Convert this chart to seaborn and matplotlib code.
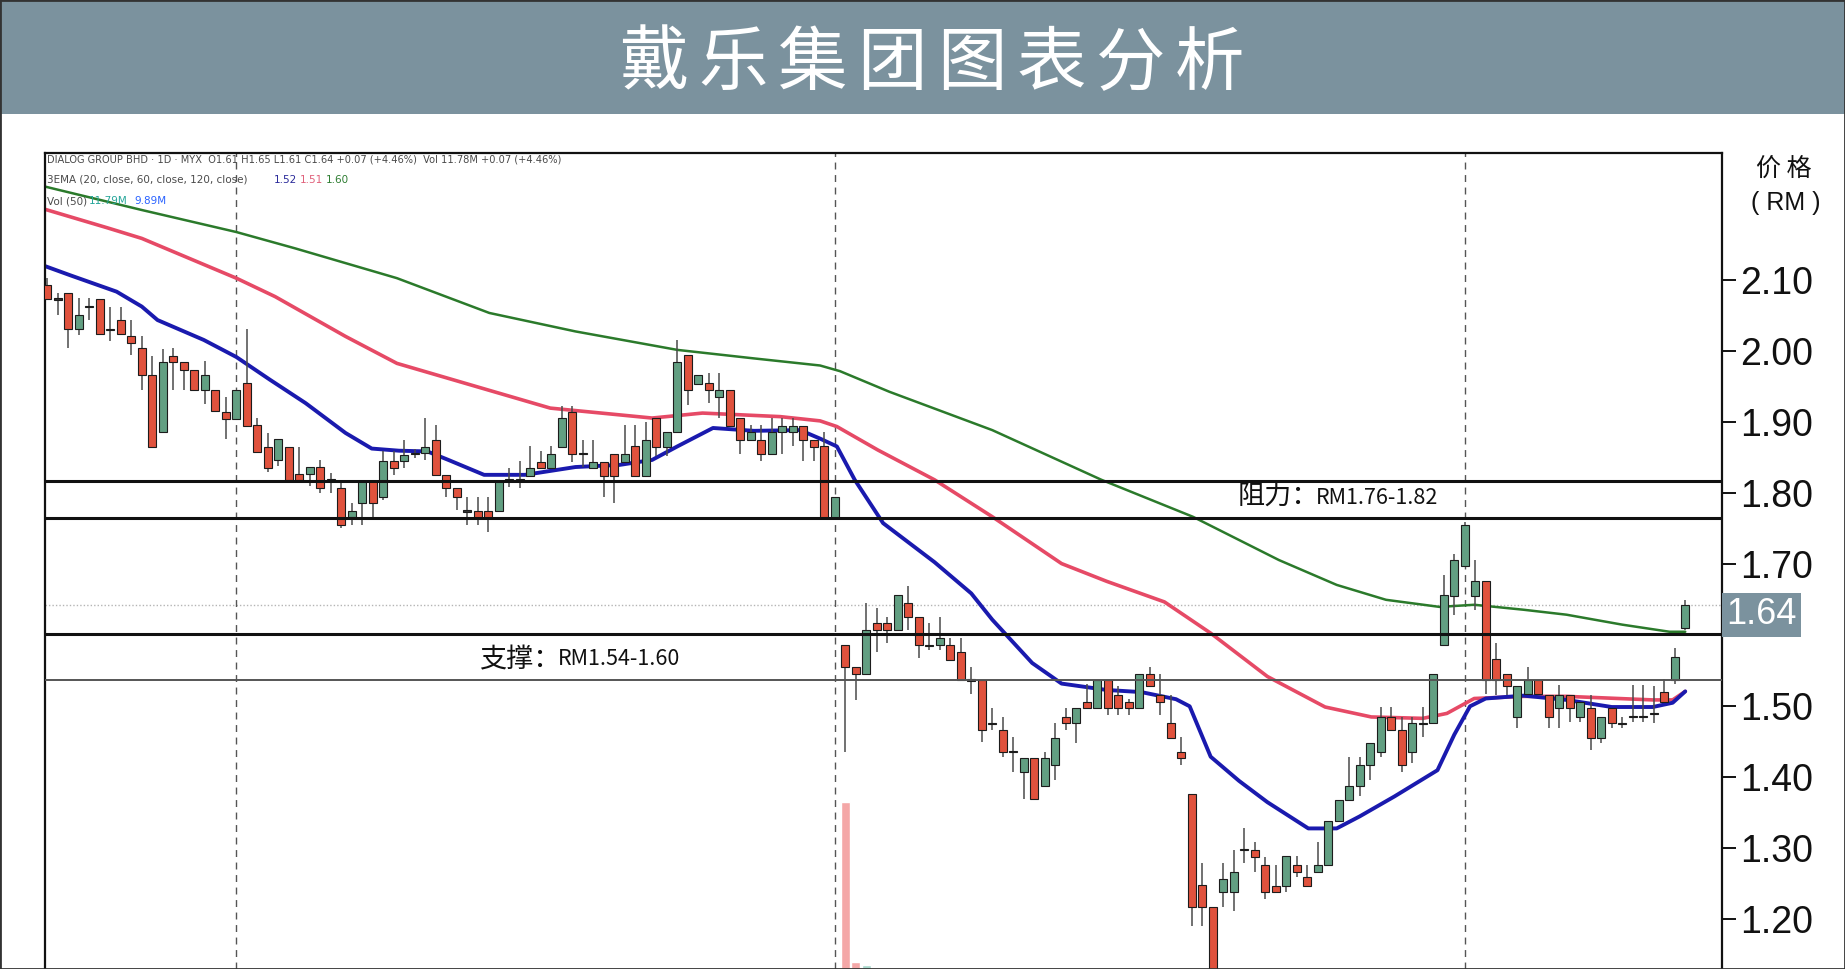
import numpy as np
import pandas as pd
import matplotlib
matplotlib.use("Agg")
import matplotlib.pyplot as plt
import matplotlib.transforms as mtransforms
from matplotlib.patches import Rectangle
import seaborn as sns

# ---- data (daily candles, index 0..156) ----
opens = [2.093, 2.074, 2.082, 2.031, 2.063, 2.074, 2.031, 2.044, 2.022, 2.004,
         1.966, 1.886, 1.994, 1.985, 1.974, 1.945, 1.945, 1.915, 1.905, 1.955,
         1.896, 1.865, 1.847, 1.865, 1.827, 1.827, 1.837, 1.819, 1.807, 1.766,
         1.786, 1.818, 1.795, 1.845, 1.845, 1.856, 1.857, 1.875, 1.826, 1.807,
         1.775, 1.775, 1.775, 1.775, 1.819, 1.819, 1.825, 1.844, 1.835, 1.865,
         1.915, 1.856, 1.835, 1.844, 1.855, 1.844, 1.866, 1.825, 1.906, 1.865,
         1.886, 1.995, 1.954, 1.955, 1.935, 1.945, 1.906, 1.875, 1.875, 1.855,
         1.886, 1.886, 1.895, 1.875, 1.866, 1.765, 1.586, 1.556, 1.546, 1.617,
         1.617, 1.607, 1.645, 1.626, 1.586, 1.586, 1.586, 1.577, 1.537, 1.537,
         1.476, 1.467, 1.436, 1.407, 1.427, 1.388, 1.417, 1.485, 1.476, 1.506,
         1.497, 1.537, 1.516, 1.506, 1.497, 1.546, 1.516, 1.476, 1.436, 1.377,
         1.248, 1.218, 1.238, 1.238, 1.298, 1.298, 1.277, 1.247, 1.247, 1.277,
         1.259, 1.267, 1.277, 1.338, 1.368, 1.388, 1.418, 1.436, 1.485, 1.467,
         1.436, 1.476, 1.476, 1.586, 1.656, 1.697, 1.656, 1.676, 1.566, 1.546,
         1.485, 1.518, 1.537, 1.516, 1.497, 1.516, 1.485, 1.498, 1.456, 1.497,
         1.476, 1.486, 1.486, 1.490, 1.520, 1.537, 1.610]
highs = [2.103, 2.082, 2.082, 2.075, 2.075, 2.074, 2.062, 2.062, 2.044, 2.022,
         1.993, 2.003, 2.004, 1.985, 1.974, 1.986, 1.945, 1.936, 1.945, 2.032,
         1.906, 1.885, 1.876, 1.865, 1.865, 1.837, 1.847, 1.828, 1.816, 1.786,
         1.818, 1.818, 1.859, 1.859, 1.875, 1.862, 1.906, 1.896, 1.826, 1.807,
         1.795, 1.795, 1.795, 1.817, 1.835, 1.845, 1.866, 1.859, 1.866, 1.923,
         1.923, 1.875, 1.875, 1.844, 1.855, 1.896, 1.896, 1.901, 1.906, 1.886,
         2.016, 1.995, 1.966, 1.969, 1.969, 1.945, 1.906, 1.896, 1.896, 1.906,
         1.906, 1.906, 1.895, 1.875, 1.886, 1.795, 1.586, 1.556, 1.645, 1.638,
         1.626, 1.657, 1.669, 1.626, 1.617, 1.626, 1.596, 1.596, 1.556, 1.537,
         1.497, 1.485, 1.457, 1.427, 1.427, 1.436, 1.476, 1.497, 1.497, 1.532,
         1.537, 1.537, 1.528, 1.510, 1.546, 1.556, 1.546, 1.516, 1.457, 1.377,
         1.279, 1.218, 1.279, 1.298, 1.328, 1.309, 1.288, 1.277, 1.289, 1.289,
         1.277, 1.309, 1.338, 1.368, 1.429, 1.429, 1.448, 1.499, 1.499, 1.485,
         1.485, 1.499, 1.546, 1.685, 1.715, 1.760, 1.706, 1.676, 1.589, 1.546,
         1.528, 1.556, 1.537, 1.516, 1.530, 1.516, 1.506, 1.516, 1.485, 1.497,
         1.485, 1.530, 1.530, 1.528, 1.539, 1.582, 1.650]
lows = [2.073, 2.051, 2.004, 2.023, 2.044, 2.024, 2.015, 2.024, 1.995, 1.945,
        1.865, 1.886, 1.945, 1.945, 1.945, 1.926, 1.916, 1.876, 1.905, 1.895,
        1.858, 1.830, 1.838, 1.819, 1.819, 1.810, 1.800, 1.800, 1.751, 1.756,
        1.756, 1.766, 1.790, 1.826, 1.835, 1.850, 1.847, 1.824, 1.795, 1.777,
        1.755, 1.755, 1.746, 1.775, 1.809, 1.807, 1.825, 1.835, 1.835, 1.865,
        1.844, 1.837, 1.835, 1.795, 1.786, 1.844, 1.825, 1.825, 1.852, 1.852,
        1.886, 1.924, 1.954, 1.927, 1.906, 1.895, 1.856, 1.875, 1.845, 1.855,
        1.855, 1.866, 1.845, 1.845, 1.765, 1.765, 1.436, 1.509, 1.546, 1.577,
        1.589, 1.607, 1.607, 1.568, 1.579, 1.579, 1.565, 1.537, 1.518, 1.450,
        1.467, 1.429, 1.408, 1.369, 1.369, 1.388, 1.396, 1.467, 1.448, 1.497,
        1.497, 1.488, 1.488, 1.488, 1.497, 1.528, 1.488, 1.456, 1.417, 1.190,
        1.190, 1.100, 1.218, 1.211, 1.279, 1.267, 1.229, 1.239, 1.239, 1.259,
        1.247, 1.267, 1.277, 1.338, 1.368, 1.373, 1.396, 1.429, 1.467, 1.408,
        1.420, 1.457, 1.476, 1.586, 1.629, 1.697, 1.636, 1.518, 1.516, 1.516,
        1.469, 1.518, 1.518, 1.469, 1.469, 1.478, 1.478, 1.438, 1.448, 1.469,
        1.469, 1.478, 1.478, 1.476, 1.506, 1.532, 1.607]
closes = [2.073, 2.073, 2.031, 2.051, 2.063, 2.024, 2.031, 2.024, 2.012, 1.966,
          1.865, 1.985, 1.985, 1.974, 1.945, 1.966, 1.916, 1.905, 1.945, 1.895,
          1.858, 1.836, 1.876, 1.819, 1.819, 1.837, 1.808, 1.819, 1.756, 1.775,
          1.818, 1.786, 1.845, 1.835, 1.854, 1.856, 1.865, 1.826, 1.807, 1.795,
          1.775, 1.765, 1.765, 1.817, 1.819, 1.819, 1.835, 1.835, 1.856, 1.906,
          1.855, 1.856, 1.844, 1.825, 1.825, 1.855, 1.825, 1.875, 1.865, 1.886,
          1.985, 1.945, 1.966, 1.945, 1.945, 1.895, 1.875, 1.887, 1.855, 1.886,
          1.895, 1.895, 1.875, 1.865, 1.765, 1.795, 1.556, 1.546, 1.607, 1.607,
          1.607, 1.657, 1.626, 1.586, 1.586, 1.596, 1.565, 1.537, 1.537, 1.467,
          1.476, 1.436, 1.436, 1.427, 1.369, 1.427, 1.456, 1.476, 1.497, 1.497,
          1.537, 1.497, 1.497, 1.497, 1.546, 1.528, 1.506, 1.456, 1.427, 1.218,
          1.218, 1.100, 1.257, 1.267, 1.298, 1.288, 1.239, 1.239, 1.289, 1.267,
          1.247, 1.277, 1.338, 1.368, 1.388, 1.418, 1.448, 1.485, 1.467, 1.418,
          1.476, 1.476, 1.546, 1.657, 1.706, 1.755, 1.676, 1.537, 1.537, 1.528,
          1.528, 1.537, 1.518, 1.485, 1.516, 1.497, 1.506, 1.456, 1.485, 1.476,
          1.476, 1.486, 1.486, 1.490, 1.506, 1.570, 1.642]

# 3 EMA lines, read at points along each curve (x = candle index)
ema20_idx = [-0.22, 2.2, 6.6, 9.0, 10.5, 14.9, 18.0, 21.2, 24.6, 28.4, 30.9, 33.5,
             36.2, 38.2, 41.6, 45.5, 50.3, 54.5, 57.6, 60.0, 63.4, 67.3, 71.7,
             73.6, 75.2, 76.9, 79.6, 84.5, 88.0, 90.0, 93.8, 96.6, 100.9, 104.2,
             107.5, 108.8, 110.8, 113.5, 116.2, 120.1, 122.8, 125.0, 128.3, 132.4,
             134.0, 135.5, 137.0, 140.6, 144.7, 149.0, 152.9, 154.8, 156.0]
ema20_val = [2.120, 2.107, 2.084, 2.063, 2.044, 2.016, 1.992, 1.960, 1.927, 1.885,
             1.863, 1.860, 1.859, 1.847, 1.826, 1.826, 1.837, 1.840, 1.847, 1.866,
             1.892, 1.888, 1.889, 1.877, 1.866, 1.819, 1.758, 1.703, 1.659, 1.622,
             1.561, 1.532, 1.523, 1.520, 1.510, 1.500, 1.429, 1.395, 1.365, 1.328,
             1.328, 1.345, 1.373, 1.410, 1.460, 1.500, 1.511, 1.515, 1.509, 1.499,
             1.499, 1.505, 1.521]
ema60_idx = [-0.22, 5.7, 9.0, 18.0, 21.7, 28.4, 33.3, 42.1, 47.9, 57.6, 62.4,
             69.8, 73.6, 75.2, 79.1, 84.5, 90.0, 96.6, 100.9, 106.4, 110.8, 116.2,
             121.7, 126.1, 131.0, 133.3, 135.9, 140.6, 144.7, 152.9, 154.8, 156.0]
ema60_val = [2.200, 2.174, 2.159, 2.103, 2.077, 2.021, 1.983, 1.945, 1.920, 1.906,
             1.913, 1.908, 1.902, 1.894, 1.861, 1.819, 1.767, 1.701, 1.676, 1.647,
             1.603, 1.542, 1.499, 1.485, 1.483, 1.490, 1.511, 1.514, 1.514, 1.509,
             1.509, 1.521]
ema120_idx = [-0.22, 9.0, 18.0, 23.6, 33.3, 42.1, 50.3, 60.0, 67.3, 73.6, 75.5,
              80.2, 90.0, 100.4, 109.1, 117.3, 122.8, 127.5, 132.6, 135.9, 140.6,
              144.7, 150.0, 154.5, 156.0]
ema120_val = [2.232, 2.199, 2.168, 2.145, 2.103, 2.054, 2.028, 2.002, 1.990, 1.980,
              1.972, 1.943, 1.889, 1.819, 1.767, 1.706, 1.671, 1.650, 1.640, 1.643,
              1.636, 1.629, 1.615, 1.605, 1.605]

# volume bars visible at the bottom edge (millions, scaled to pane)
vol_idx = [76, 77, 78]
vol_val = [59.5, 2.6, 1.4]
vol_up = [False, False, True]

resistance = [1.765, 1.817]
support = [1.537, 1.602]
last_price = 1.642
period_marks = [18, 75, 135]
yticks = [1.2, 1.3, 1.4, 1.5, 1.7, 1.8, 1.9, 2.0, 2.1]
title = "戴乐集团图表分析"

HEADER = "#7b929e"
RED = "#e0523d"
GREEN = "#629f82"

sns.set_style("white")
plt.rcParams['font.family'] = ['Noto Sans CJK SC', 'DejaVu Sans']

W, H = 1845, 969
fig = plt.figure(figsize=(W / 100, H / 100), dpi=100)


def fx(px):
    return px / W


def fy(py):
    return 1 - py / H


# header band + title
fig.patches.append(Rectangle((0, fy(114)), 1, 114 / H, transform=fig.transFigure,
                             fc=HEADER, ec="none", zorder=0))
for k, ch in enumerate(title):
    fig.text(fx(932 + 79.4 * (k - 3.5)), fy(64), ch, color="white", fontsize=50,
             fontweight="medium", ha="center", va="center")

pos = [fx(45), 0, fx(1722) - fx(45), fy(153)]
axv = fig.add_axes(pos)
ax = fig.add_axes(pos)
ax.patch.set_visible(False)

# volume pane
vdf = pd.DataFrame({"i": vol_idx, "v": vol_val, "up": vol_up})
axv.bar(vdf["i"], vdf["v"], width=0.85,
        color=np.where(vdf["up"], "#a8d8cc", "#f4a7a7"))
axv.set_ylim(0, 290)
axv.set_xlim(-0.22, 159.5)
axv.axis("off")

# candles
df = pd.DataFrame({"o": opens, "h": highs, "l": lows, "c": closes})
df["i"] = np.arange(len(df))
diff = (df["c"] - df["o"]).abs()
doji = diff < 0.001
body_h = np.maximum(diff, 0.0018)
body_lo = np.minimum(df["o"], df["c"]) - (body_h - diff) / 2
cols = np.where(doji, "#333333", np.where(df["c"] >= df["o"], GREEN, RED))

ax.vlines(df["i"], df["l"], df["h"], color="#4a4a4a", lw=1.1, zorder=3)
ax.bar(df["i"], body_h, bottom=body_lo, width=0.76, color=cols,
       edgecolor="#1c1c1c", linewidth=0.8, zorder=4)

# EMA lines
for idx, vals, col, lw in [(ema120_idx, ema120_val, "#2b7a2b", 1.8),
                           (ema60_idx, ema60_val, "#e64a66", 2.6),
                           (ema20_idx, ema20_val, "#1a1aae", 2.8)]:
    sns.lineplot(x=idx, y=vals, color=col, lw=lw, ax=ax, sort=False,
                 legend=False, zorder=2, solid_joinstyle="round",
                 solid_capstyle="round")

# levels
for v in resistance + [support[1]]:
    ax.axhline(v, color="#111111", lw=2.2, zorder=5)
ax.axhline(support[0], color="#555555", lw=1.4, zorder=5)
ax.axhline(last_price, color="#b5b5b5", lw=1.0, ls=(0, (1, 1.5)), zorder=1)
for m in period_marks:
    ax.axvline(m, color="#555555", lw=1.0, ls=(0, (5, 4)), zorder=1)

# zone labels: Chinese part and the narrower Latin part
for i0, y0, head, rng in [(113.4, 1.794, "阻力：", "RM1.76-1.82"),
                          (41.2, 1.566, "支撑：", "RM1.54-1.60")]:
    ax.text(i0, y0, head, fontsize=19.5, color="#111111", va="center",
            ha="left", zorder=6)
    ax.text(i0 + 7.4, y0, rng, fontsize=15.5, color="#111111", va="center",
            ha="left", zorder=6)

ax.set_xlim(-0.22, 159.5)
ax.set_ylim(1.130, 2.2793)
ax.set_xticks([])
ax.yaxis.tick_right()
ax.set_yticks(yticks)
ax.set_yticklabels([f"{v:.2f}" for v in yticks], family="Liberation Sans")
ax.tick_params(axis="y", direction="out", length=10, width=1.4, pad=3,
               labelsize=27, colors="#111111")
for s in ["left", "top", "right"]:
    ax.spines[s].set_color("#111111")
    ax.spines[s].set_linewidth(1.6)
ax.spines["bottom"].set_visible(False)
ax.set_xlabel("")
ax.set_ylabel("")

# last price label
trans = mtransforms.blended_transform_factory(ax.transAxes, ax.transData)
ax.text(1.0025, 1.629, "1.64", transform=trans, fontsize=26, color="white",
        family="Liberation Sans", va="center", ha="left",
        bbox=dict(boxstyle="square,pad=0.12", fc=HEADER, ec="none"),
        clip_on=False, zorder=7)

# axis title at right
fig.text(fx(1784), fy(169), "价 格", fontsize=18, ha="center", va="center",
         color="#111111")
fig.text(fx(1786), fy(203), "( RM )", fontsize=18, ha="center", va="center",
         color="#111111", family="Liberation Sans")

# top-left legend
lg = dict(fontsize=7.5, va="center", ha="left", family="DejaVu Sans")
fig.text(fx(47), fy(159), "DIALOG GROUP BHD · 1D · MYX  O1.61 H1.65 L1.61 C1.64 "
         "+0.07 (+4.46%)  Vol 11.78M +0.07 (+4.46%)", color="#4a4a4a",
         **{**lg, "fontsize": 7.1})
fig.text(fx(47), fy(180), "3EMA (20, close, 60, close, 120, close)", color="#4a4a4a", **lg)
fig.text(fx(274), fy(180), "1.52", color="#2a2a9a", **lg)
fig.text(fx(300), fy(180), "1.51", color="#e0607a", **lg)
fig.text(fx(326), fy(180), "1.60", color="#2e7d32", **lg)
fig.text(fx(47), fy(201), "Vol (50)", color="#4a4a4a", **lg)
fig.text(fx(89), fy(201), "11.79M", color="#26a69a", **lg)
fig.text(fx(134), fy(201), "9.89M", color="#2962ff", **lg)

# outer frame
fig.patches.append(Rectangle((0, 0), 1, 1, transform=fig.transFigure, fill=False,
                             ec="#333333", lw=2, zorder=10))

fig.savefig("out.png", dpi=100)
